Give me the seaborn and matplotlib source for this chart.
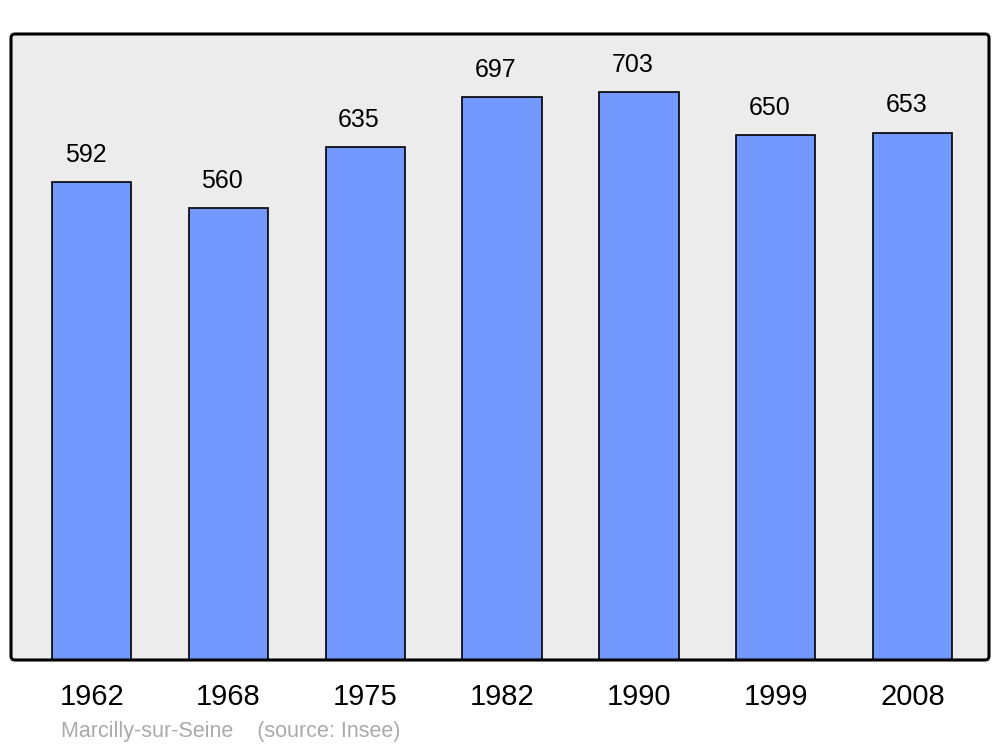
import matplotlib
matplotlib.use("Agg")
import matplotlib.pyplot as plt
from matplotlib.patches import FancyBboxPatch
from matplotlib.transforms import IdentityTransform
import seaborn as sns
import pandas as pd

years = ["1962", "1968", "1975", "1982", "1990", "1999", "2008"]
population = [592, 560, 635, 697, 703, 650, 653]

sns.set_theme(style="white")
plt.rcParams['font.family'] = ['Liberation Sans', 'DejaVu Sans']

fig = plt.figure(figsize=(10, 7.47), dpi=100)
ax = fig.add_axes([0.011, 1 - 660/747, 0.978, (660 - 34)/747])
ax.patch.set_visible(False)

# frame with rounded corners (display pixel coordinates)
bg = FancyBboxPatch((11, 747 - 660), 978, 626, boxstyle="round,pad=0,rounding_size=4",
                    facecolor="#ECECEC", edgecolor="none", transform=IdentityTransform(),
                    zorder=-1)
edge = FancyBboxPatch((11, 747 - 660), 978, 626, boxstyle="round,pad=0,rounding_size=4",
                      facecolor="none", edgecolor="black", linewidth=2.2,
                      transform=IdentityTransform(), zorder=5)
fig.patches.extend([bg, edge])

df = pd.DataFrame({"year": years, "pop": population})
sns.barplot(data=df, x="year", y="pop", color="#7399FF", saturation=1,
            edgecolor="black", linewidth=1.2, width=0.58, ax=ax)

ax.set_xlim(-0.59, 6.56)
ax.set_ylim(0, 775)
ax.set_xlabel("")
ax.set_ylabel("")
ax.set_yticks([])
ax.tick_params(axis="x", length=0, pad=16.5, labelsize=21, labelcolor="black")
for lbl in ax.get_xticklabels():
    lbl.set_x(lbl.get_position()[0])
for s in ax.spines.values():
    s.set_visible(False)

for i, v in enumerate(population):
    ax.annotate(str(v), (i, v), xytext=(-4.5, 19.5), textcoords="offset points",
                ha="center", va="center", fontsize=18, color="black")

fig.text(0.061, 1 - 731/747, "Marcilly-sur-Seine    (source: Insee)",
         color="#AAAAAA", fontsize=15.5, va="center", ha="left")

fig.savefig("out.png", dpi=100, facecolor="white")
